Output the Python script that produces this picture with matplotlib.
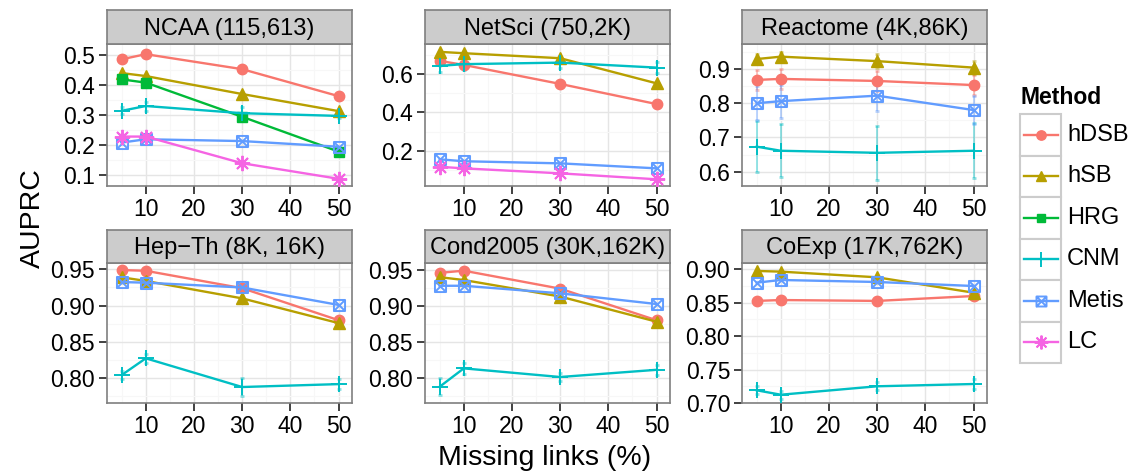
import matplotlib
matplotlib.use("Agg")
import matplotlib.pyplot as plt
from matplotlib.path import Path
from matplotlib.lines import Line2D
from matplotlib.patches import Rectangle

plt.rcParams['font.family'] = ['Liberation Sans', 'DejaVu Sans']

# x values: percentage of links removed
missing = [5, 10, 30, 50]
methods = ["hDSB", "hSB", "HRG", "CNM", "Metis", "LC"]

# AUPRC per dataset / method
ncaa = {"hDSB": [0.486, 0.503, 0.453, 0.363],
        "hSB": [0.440, 0.430, 0.370, 0.313],
        "HRG": [0.419, 0.408, 0.294, 0.178],
        "CNM": [0.314, 0.330, 0.306, 0.297],
        "Metis": [0.208, 0.219, 0.213, 0.194],
        "LC": [0.228, 0.228, 0.139, 0.087]}
ncaa_err = {"CNM": [0.012, 0.015, 0.02, 0.008], "LC": [0.01, 0.01, 0.008, 0.006]}

netsci = {"hDSB": [0.668, 0.647, 0.548, 0.443],
          "hSB": [0.715, 0.708, 0.682, 0.551],
          "CNM": [0.642, 0.651, 0.659, 0.633],
          "Metis": [0.155, 0.145, 0.134, 0.108],
          "LC": [0.116, 0.108, 0.082, 0.051]}
netsci_err = {"CNM": [0.03, 0.03, 0.03, 0.03], "LC": [0.01, 0.01, 0.01, 0.01]}

reactome = {"hDSB": [0.868, 0.871, 0.865, 0.853],
            "hSB": [0.929, 0.936, 0.923, 0.904],
            "CNM": [0.673, 0.661, 0.655, 0.661],
            "Metis": [0.800, 0.806, 0.822, 0.780]}
reactome_err = {"hDSB": [0.03, 0.03, 0.03, 0.03],
                "hSB": [0.015, 0.015, 0.02, 0.02],
                "CNM": [0.074, 0.077, 0.079, 0.080],
                "Metis": [0.05, 0.048, 0.045, 0.04]}

hepth = {"hDSB": [0.949, 0.948, 0.924, 0.880],
         "hSB": [0.939, 0.934, 0.910, 0.876],
         "CNM": [0.8045, 0.8275, 0.788, 0.792],
         "Metis": [0.9325, 0.9316, 0.925, 0.901]}
hepth_err = {"CNM": [0.006, 0.006, 0.012, 0.007]}

cond2005 = {"hDSB": [0.946, 0.949, 0.924, 0.880],
            "hSB": [0.940, 0.936, 0.913, 0.878],
            "CNM": [0.7875, 0.813, 0.801, 0.811],
            "Metis": [0.928, 0.928, 0.9175, 0.9026]}
cond2005_err = {"CNM": [0.012, 0.008, 0.006, 0.007]}

coexp = {"hDSB": [0.8527, 0.854, 0.8527, 0.860],
         "hSB": [0.8975, 0.8965, 0.888, 0.865],
         "CNM": [0.719, 0.7124, 0.725, 0.7284],
         "Metis": [0.880, 0.884, 0.881, 0.875]}
coexp_err = {"CNM": [0.006, 0.006, 0.006, 0.007]}

titles = ["NCAA (115,613)", "NetSci (750,2K)", "Reactome (4K,86K)",
          "Hep\u2212Th (8K, 16K)", "Cond2005 (30K,162K)", "CoExp (17K,762K)"]

colors = {"hDSB": "#F8766D", "hSB": "#B79F00", "HRG": "#00BA38",
          "CNM": "#00BFC4", "Metis": "#619CFF", "LC": "#F564E3"}

# square with a cross, like R's pch 7
box_x = Path([(-1, -1), (1, -1), (1, 1), (-1, 1), (-1, -1), (1, 1), (-1, 1), (1, -1)],
             [Path.MOVETO, Path.LINETO, Path.LINETO, Path.LINETO, Path.LINETO,
              Path.LINETO, Path.MOVETO, Path.LINETO])
markers = {"hDSB": "o", "hSB": "^", "HRG": "s", "CNM": "+", "Metis": box_x, "LC": (8, 2, 0)}
msizes = {"hDSB": 7.5, "hSB": 8.5, "HRG": 7, "CNM": 12, "Metis": 8, "LC": 11}

W, H = 1133, 476
fig = plt.figure(figsize=(W / 100, H / 100), dpi=100)

def px(l, t, w, h):
    return [l / W, 1 - (t + h) / H, w / W, h / H]

panels = [
    (ncaa, ncaa_err, (0.063, 0.537), [0.1, 0.2, 0.3, 0.4, 0.5], "{:.1f}"),
    (netsci, netsci_err, (0.016, 0.756), [0.2, 0.4, 0.6], "{:.1f}"),
    (reactome, reactome_err, (0.558, 0.973), [0.6, 0.7, 0.8, 0.9], "{:.1f}"),
    (hepth, hepth_err, (0.766, 0.9587), [0.80, 0.85, 0.90, 0.95], "{:.2f}"),
    (cond2005, cond2005_err, (0.7648, 0.9597), [0.80, 0.85, 0.90, 0.95], "{:.2f}"),
    (coexp, coexp_err, (0.70, 0.9094), [0.70, 0.75, 0.80, 0.85, 0.90], "{:.2f}"),
]
lefts = [107, 425, 742]
rows = [(10, 34, 142), (230, 33, 140)]

for i, (data, err, ylim, yt, fmt) in enumerate(panels):
    top, sh, ph = rows[i // 3]
    left = lefts[i % 3]
    ax = fig.add_axes(px(left, top + sh, 245, ph))
    for m in methods:
        if m not in data:
            continue
        if m in err:
            ax.errorbar(missing, data[m], yerr=err[m], fmt="none", ecolor=colors[m],
                        alpha=0.45, elinewidth=1.3, capsize=1.5, capthick=2, zorder=2)
        ax.plot(missing, data[m], color=colors[m], lw=1.7, marker=markers[m],
                ms=msizes[m], mew=1.4 if m in ("CNM", "Metis", "LC") else 1,
                mfc="none" if m == "Metis" else colors[m], zorder=3)
    ax.set_xlim(1.95, 52.8)
    ax.set_ylim(*ylim)
    ax.set_xticks([10, 20, 30, 40, 50])
    ax.set_xticks([5, 15, 25, 35, 45], minor=True)
    ax.set_yticks(yt)
    ax.set_yticklabels([fmt.format(v) for v in yt])
    ystep = yt[1] - yt[0]
    ax.set_yticks([v + ystep / 2 for v in [yt[0] - ystep] + yt
                   if ylim[0] < v + ystep / 2 < ylim[1]], minor=True)
    ax.grid(which="major", color="#e5e5e5", lw=1.0)
    ax.grid(which="minor", color="#f7f7f7", lw=0.8)
    ax.set_axisbelow(True)
    ax.tick_params(which="major", length=5.5, width=1.3, color="#333333",
                   labelsize=16.5, pad=3, labelcolor="black")
    ax.tick_params(which="minor", length=0)
    for s in ax.spines.values():
        s.set_color("#7f7f7f")
        s.set_linewidth(1.2)

    # facet strip
    sax = fig.add_axes(px(left, top, 245, sh))
    sax.set_facecolor("#cccccc")
    sax.set_xticks([])
    sax.set_yticks([])
    for s in sax.spines.values():
        s.set_color("#7f7f7f")
        s.set_linewidth(1.2)
    sax.text(0.5, 0.45, titles[i], ha="center", va="center", fontsize=17,
             transform=sax.transAxes)

fig.text(33 / W, 1 - 218 / H, "AUPRC", rotation=90, ha="center", va="center", fontsize=20.5)
fig.text(545 / W, 1 - 458 / H, "Missing links (%)", ha="center", va="center", fontsize=20.5)

# legend drawn in pixel space on the right
lax = fig.add_axes([0, 0, 1, 1], facecolor="none")
lax.set_xlim(0, W)
lax.set_ylim(H, 0)
lax.axis("off")
lax.text(1020, 97, "Method", fontsize=16.5, fontweight="bold", ha="left", va="center")
for k, m in enumerate(methods):
    y0 = 114 + k * 41.5
    lax.add_patch(Rectangle((1020, y0), 41, 41.5, facecolor="white",
                            edgecolor="#cccccc", lw=1.5))
    lax.add_line(Line2D([1024, 1058], [y0 + 20.75, y0 + 20.75], color=colors[m], lw=1.7,
                        zorder=3))
    lax.plot([1041], [y0 + 20.75], color=colors[m], marker=markers[m], ms=msizes[m] * 0.9,
             mew=1.4 if m in ("CNM", "Metis", "LC") else 1,
             mfc="none" if m == "Metis" else colors[m], zorder=4)
    lax.text(1067, y0 + 20.75, m, fontsize=17, ha="left", va="center")

fig.savefig("out.png", dpi=100)
